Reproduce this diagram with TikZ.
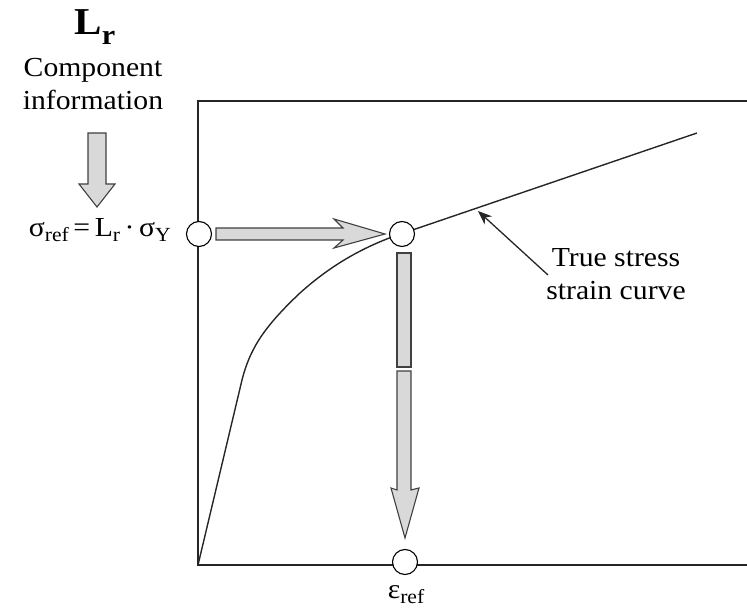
\documentclass[tikz,border=0pt]{standalone}
\usepackage{fontspec}
\setmainfont{Liberation Serif}[FakeStretch=1.08]
\usetikzlibrary{arrows.meta}
\newcommand\sbs[1]{\raisebox{-5pt}{\fontsize{20}{20}\selectfont #1}}
\begin{document}
\begin{tikzpicture}[x=1pt,y=-1pt,
  line join=miter,
  txt/.style={font=\fontsize{27.5}{33}\selectfont, inner sep=0pt, anchor=base},
  dot/.style={circle, draw=black, fill=white, line width=1.1pt, minimum size=25pt, inner sep=0pt},
  fatarrow/.style={draw=black!75, fill=black!15, line width=1.1pt},
  axis/.style={draw=black!85, line width=1.5pt},
  curve/.style={draw=black!85, line width=1.4pt}]
\useasboundingbox (0,0) rectangle (747,612);
% frame
\draw[axis] (747,101) -- (198,101) -- (198,565) -- (747,565);
% curve
\draw[curve] (198,565) -- (242,380) .. controls (250,348) and (265,326) .. (300,293)
  .. controls (330,266) and (360,249) .. (392,237) -- (697,133);
% circles
\node[dot] (c1) at (199,234) {};
\node[dot] (c2) at (402,234) {};
\node[dot] (c3) at (405,562) {};
% texts
\node[txt, font=\fontsize{38}{40}\selectfont\bfseries] (lr) at (95,35) {L\raisebox{-10pt}{\fontsize{28}{28}\selectfont r}};
\node[txt] (comp) at (93,77) {Component};
\node[txt] (info) at (93,110) {information};
\node[txt, anchor=base east] (sig) at (171,237) {σ\sbs{ref}\,=\,L\sbs{r}\,·\,σ\sbs{Y}};
\node[txt] (eps) at (406,598) {ε\sbs{ref}};
\node[txt, align=center] (tss) at (616,300) {True stress\\strain curve};
% top-left down arrow
\draw[fatarrow] (88,133) -- (106,133) -- (106,184) -- (115,184) -- (97,207) -- (79,184) -- (88,184) -- cycle;
% horizontal arrow
\draw[fatarrow] (216,228) -- (343,228) -- (334,219) -- (385,234) -- (334,248) -- (343,240) -- (216,240) -- cycle;
% vertical arrow (two pieces)
\draw[fatarrow] (397,253) rectangle (411,367);
\draw[fatarrow] (397,371) -- (411,371) -- (411,490) -- (419,488) -- (405,538) -- (391,488) -- (397,490) -- cycle;
% annotation
\coordinate (tip) at (478,211);
\coordinate (from) at (548,275);
\draw[line width=1.3pt, draw=black!85, -{Stealth[length=14pt,width=11pt]}] (from) -- (tip);
\end{tikzpicture}
\end{document}
